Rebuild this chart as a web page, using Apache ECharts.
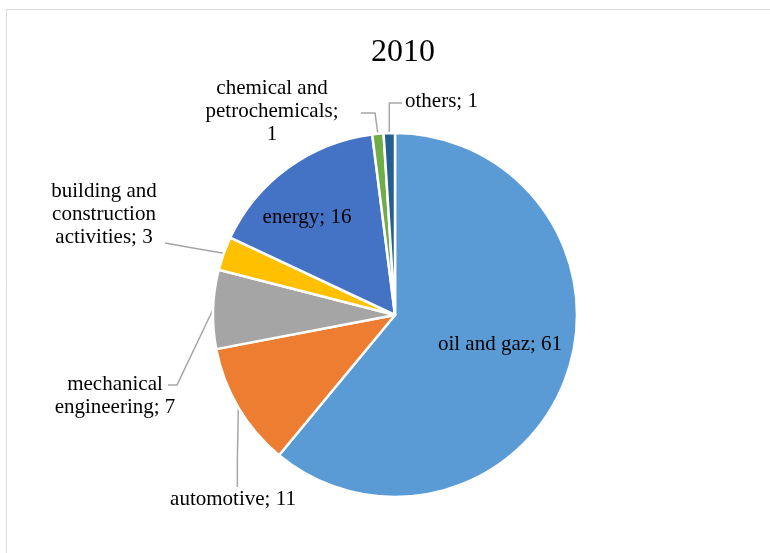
<!DOCTYPE html>
<html><head><meta charset="utf-8">
<script src="https://cdn.jsdelivr.net/npm/echarts@6/dist/echarts.min.js"></script>
<style>html,body{margin:0;padding:0;background:#fff}#c{width:770px;height:553px}</style>
</head><body><div id="c"></div>
<script>
var categories = ['oil and gaz', 'automotive', 'mechanical engineering', 'building and construction activities', 'energy', 'chemical and petrochemicals', 'others'];
var values = [61, 11, 7, 3, 16, 1, 1];
var labelTexts = ['oil and gaz; 61', 'automotive; 11', 'mechanical\nengineering; 7', 'building and\nconstruction\nactivities; 3', 'energy; 16', 'chemical and\npetrochemicals;\n1', 'others; 1'];
var colors = ['#5B9BD5', '#ED7D31', '#A5A5A5', '#FFC000', '#4472C4', '#70AD47', '#255E91'];

var chart = echarts.init(document.getElementById('c'), null, {renderer: 'canvas'});
var font = 'Liberation Serif, Times New Roman, serif';
var data = categories.map(function (n, i) {
  var inside = (i === 0 || i === 4);
  return {
    name: n, value: values[i],
    itemStyle: {color: colors[i]},
    label: {position: inside ? 'inside' : 'outside'},
    labelLine: {show: !inside}
  };
});
var layouts = {
  0: {x: 500, y: 344, align: 'center', verticalAlign: 'middle'},
  4: {x: 307, y: 217, align: 'center', verticalAlign: 'middle'},
  6: {x: 405, y: 101, align: 'left', verticalAlign: 'middle', pts: function (s) { return [s, [s[0], 103], [402, 103]]; }},
  5: {x: 272, y: 111, align: 'center', verticalAlign: 'middle', pts: function (s) { return [s, [375, 113], [361, 113]]; }},
  3: {x: 104, y: 214, align: 'center', verticalAlign: 'middle', pts: function (s) { return [s, [(s[0] + 165) / 2, (s[1] + 243) / 2], [165, 243]]; }},
  2: {x: 115, y: 396, align: 'center', verticalAlign: 'middle', pts: function (s) { return [s, [177, 385], [168, 385]]; }},
  1: {x: 233, y: 499, align: 'center', verticalAlign: 'middle', pts: function (s) { return [s, [s[0] - 1, 460], [s[0] - 1, 487]]; }}
};
chart.setOption({
  animation: false,
  backgroundColor: '#fff',
  title: {text: '2010', left: 366, top: 32, textStyle: {fontFamily: font, fontSize: 32, fontWeight: 'normal', color: '#000'}},
  graphic: [{type: 'rect', shape: {x: 6.5, y: 9.5, width: 800, height: 600}, style: {fill: 'none', stroke: '#D9D9D9', lineWidth: 1}, silent: true}],
  series: [{
    type: 'pie',
    center: [395, 315],
    radius: [0, 182],
    startAngle: 90,
    clockwise: true,
    avoidLabelOverlap: false,
    itemStyle: {borderColor: '#fff', borderWidth: 2.5},
    label: {
      fontFamily: font, fontSize: 21, color: '#000', lineHeight: 23,
      formatter: function (p) { return labelTexts[p.dataIndex]; }
    },
    labelLine: {lineStyle: {color: '#A6A6A6', width: 1.5}, length: 10, length2: 10},
    labelLayout: function (p) {
      var L = layouts[p.dataIndex];
      var r = {x: L.x, y: L.y, align: L.align, verticalAlign: L.verticalAlign};
      if (L.pts && p.labelLinePoints) {
        r.labelLinePoints = L.pts(p.labelLinePoints[0]);
      }
      return r;
    },
    data: data
  }]
});
</script></body></html>
